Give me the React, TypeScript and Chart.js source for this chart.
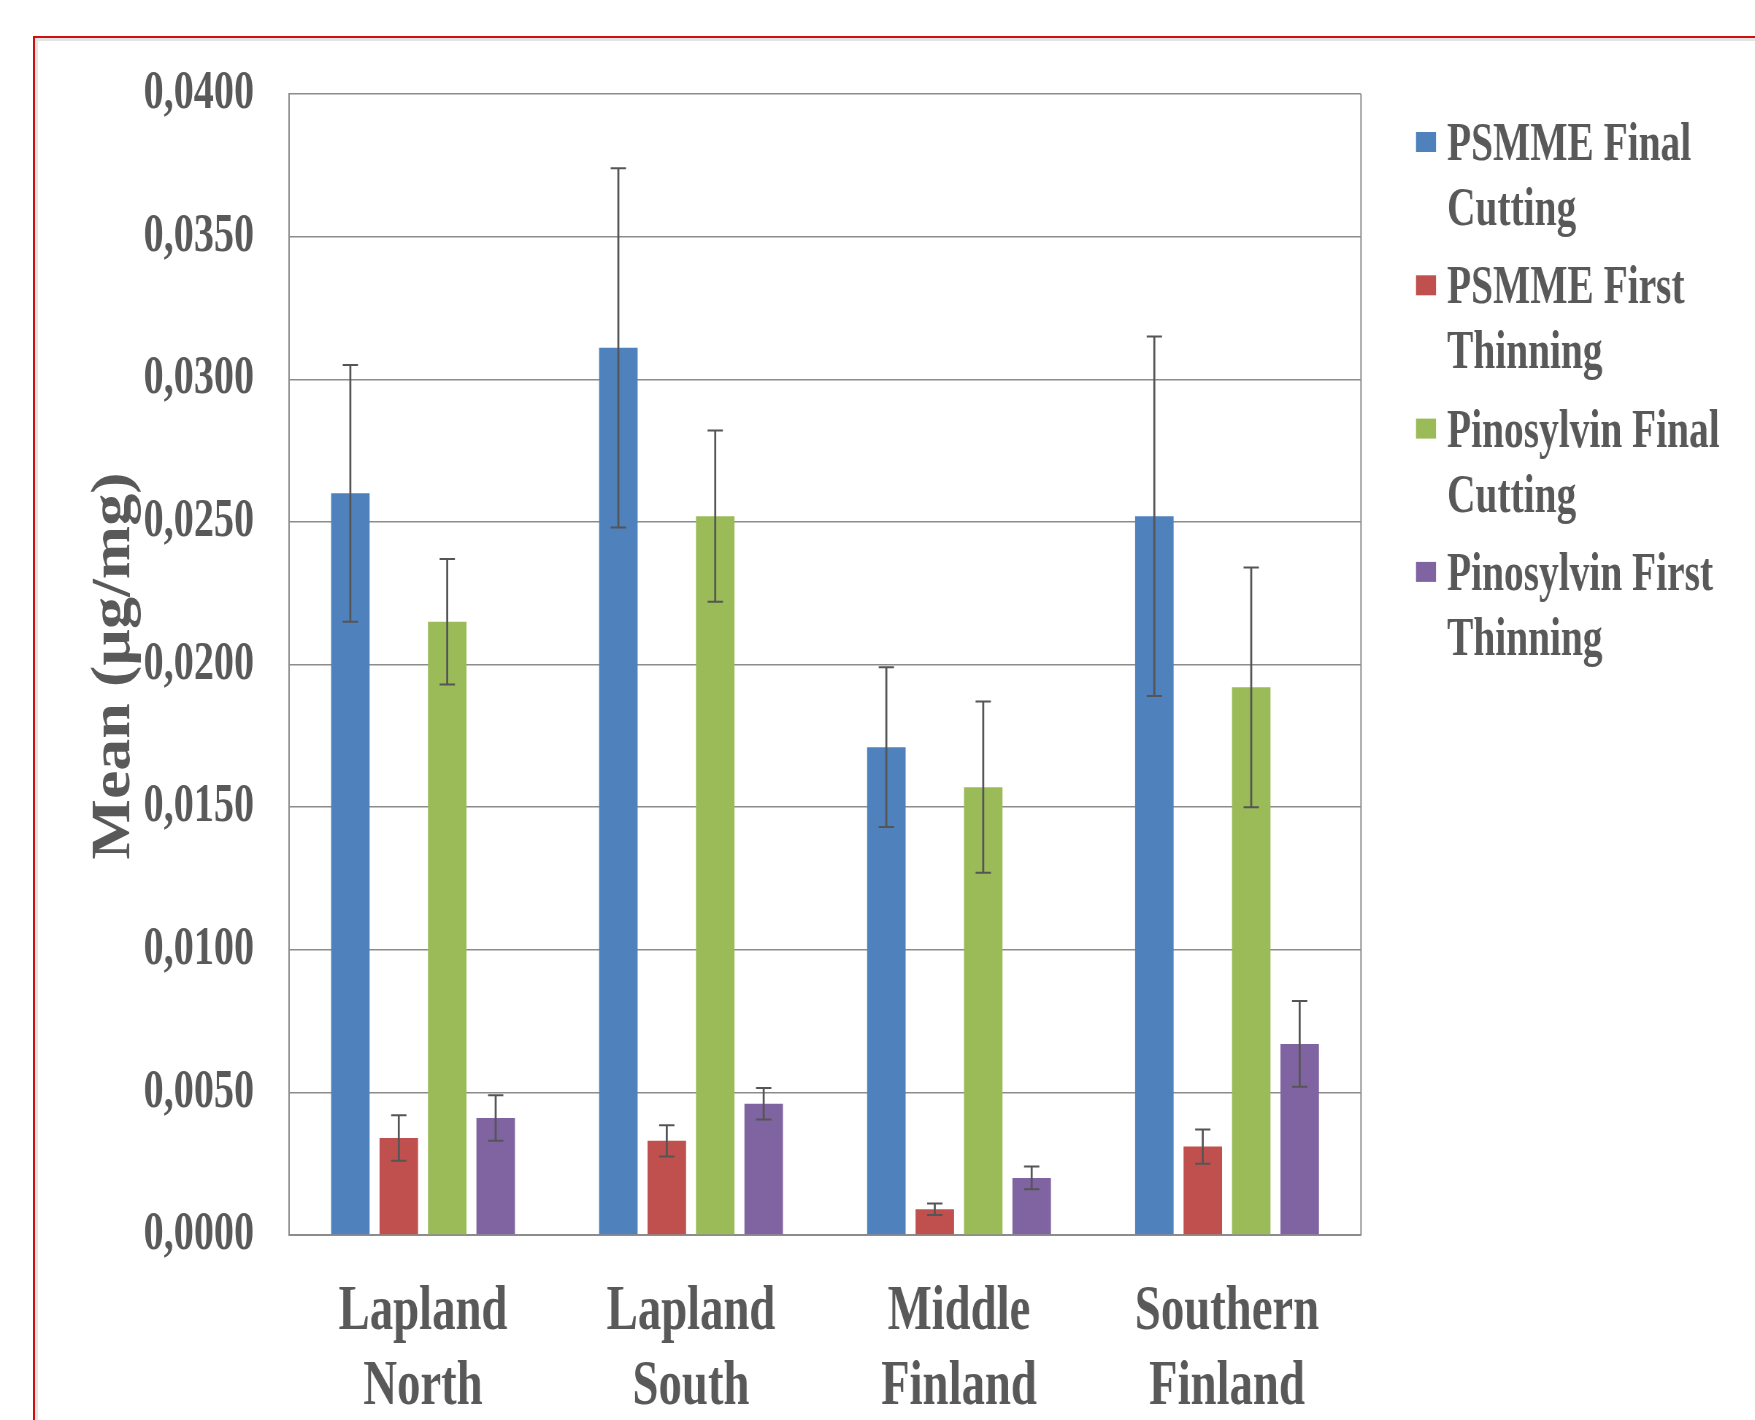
import React, { useEffect, useRef } from "react";
import { Chart, registerables } from "chart.js";

Chart.register(...registerables);

// ---------- DATA ----------
const categories: string[][] = [
  ["Lapland", "North"],
  ["Lapland", "South"],
  ["Middle", "Finland"],
  ["Southern", "Finland"],
];

const seriesNames: string[][] = [
  ["PSMME Final", "Cutting"],
  ["PSMME First", "Thinning"],
  ["Pinosylvin Final", "Cutting"],
  ["Pinosylvin First", "Thinning"],
];

const psmmeFinalCutting = [0.026, 0.0311, 0.0171, 0.0252];
const psmmeFirstThinning = [0.0034, 0.0033, 0.0009, 0.0031];
const pinosylvinFinalCutting = [0.0215, 0.0252, 0.0157, 0.0192];
const pinosylvinFirstThinning = [0.0041, 0.0046, 0.002, 0.0067];

const psmmeFinalCuttingErr = [0.0045, 0.0063, 0.0028, 0.0063];
const psmmeFirstThinningErr = [0.0008, 0.00055, 0.0002, 0.0006];
const pinosylvinFinalCuttingErr = [0.0022, 0.003, 0.003, 0.0042];
const pinosylvinFirstThinningErr = [0.0008, 0.00055, 0.0004, 0.0015];

const seriesColors = ["#4F81BD", "#C0504D", "#9BBB59", "#8064A2"];

const Y_MIN = 0;
const Y_MAX = 0.04;
const Y_STEP = 0.005;
const yTickFormat = (v: number) => v.toFixed(4).replace(".", ",");
const yTitle = "Mean (µg/mg)";

// ---------- LAYOUT ----------
const S = 0.73; // horizontal compression of the whole picture
const PAGE_W = 1755;
const PAGE_H = 1420;
const CW = Math.round(PAGE_W / S);
const CH = PAGE_H;
const FONT = '"Liberation Serif", "Times New Roman", serif';
const TEXT = "#595959";
const GRID = "#8c8c8c";

const PLOT_LEFT = 289 / S;
const PLOT_RIGHT = 1361 / S;
const PLOT_TOP = 94;
const PLOT_BOTTOM = 1235;

const errorBarPlugin = {
  id: "errorBars",
  afterDatasetsDraw(chart: any) {
    const ctx = chart.ctx;
    const y = chart.scales.y;
    chart.data.datasets.forEach((ds: any, di: number) => {
      const meta = chart.getDatasetMeta(di);
      meta.data.forEach((bar: any, i: number) => {
        const v = ds.data[i];
        const e = ds.errors[i];
        const x = bar.x;
        const yt = y.getPixelForValue(v + e);
        const yb = y.getPixelForValue(v - e);
        const cap = 10.5;
        ctx.save();
        ctx.strokeStyle = "#555555";
        ctx.lineWidth = 2 / S;
        ctx.beginPath();
        ctx.moveTo(x, yt);
        ctx.lineTo(x, yb);
        ctx.stroke();
        ctx.lineWidth = 2;
        ctx.beginPath();
        ctx.moveTo(x - cap, yt);
        ctx.lineTo(x + cap, yt);
        ctx.moveTo(x - cap, yb);
        ctx.lineTo(x + cap, yb);
        ctx.stroke();
        ctx.restore();
      });
    });
  },
};

const frameAndTextPlugin = {
  id: "frameAndText",
  beforeDatasetsDraw(chart: any) {
    const { ctx, chartArea } = chart;
    ctx.save();
    ctx.strokeStyle = GRID;
    ctx.lineWidth = 2;
    ctx.beginPath();
    ctx.moveTo(chartArea.right, chartArea.top);
    ctx.lineTo(chartArea.right, chartArea.bottom);
    ctx.stroke();
    ctx.restore();
  },
  afterDraw(chart: any) {
    const ctx = chart.ctx;
    // y-axis title
    ctx.save();
    ctx.translate(129 / S, 666);
    ctx.scale(0.88 / S, 1);
    ctx.rotate(-Math.PI / 2);
    ctx.font = `bold 64px ${FONT}`;
    ctx.fillStyle = TEXT;
    ctx.textAlign = "center";
    ctx.textBaseline = "alphabetic";
    ctx.fillText(yTitle, 0, 0);
    ctx.restore();

    // legend
    const sqX = 1416 / S;
    const sqW = 20 / S;
    const txtX = 1447 / S;
    ctx.save();
    ctx.font = `bold 54px ${FONT}`;
    ctx.textAlign = "left";
    ctx.textBaseline = "alphabetic";
    chart.data.datasets.forEach((ds: any, i: number) => {
      const base = 160 + i * 143.3;
      ctx.fillStyle = ds.backgroundColor;
      ctx.fillRect(sqX, base - 28, sqW, 20);
      ctx.fillStyle = TEXT;
      (ds.legendLines as string[]).forEach((line, j) => {
        ctx.fillText(line, txtX, base + j * 65);
      });
    });
    ctx.restore();
  },
};

export default function App() {
  const ref = useRef<HTMLCanvasElement | null>(null);

  useEffect(() => {
    if (!ref.current) return;
    const values = [psmmeFinalCutting, psmmeFirstThinning, pinosylvinFinalCutting, pinosylvinFirstThinning];
    const errors = [psmmeFinalCuttingErr, psmmeFirstThinningErr, pinosylvinFinalCuttingErr, pinosylvinFirstThinningErr];
    const chart = new Chart(ref.current, {
      type: "bar",
      data: {
        labels: categories,
        datasets: values.map((d, i) => ({
          label: seriesNames[i].join(" "),
          legendLines: seriesNames[i],
          data: d,
          errors: errors[i],
          backgroundColor: seriesColors[i],
          borderWidth: 0,
          categoryPercentage: 0.723,
          barPercentage: 0.795,
        })) as any,
      },
      options: {
        animation: false,
        responsive: false,
        devicePixelRatio: 1,
        layout: { padding: { left: 0, top: PLOT_TOP, right: CW - PLOT_RIGHT, bottom: 0 } },
        plugins: { legend: { display: false }, tooltip: { enabled: false } },
        scales: {
          x: {
            grid: { display: false, drawTicks: false },
            border: { display: true, color: GRID, width: 2 },
            ticks: {
              color: TEXT,
              font: { family: FONT, size: 64, weight: "bold", lineHeight: 1.17 },
              padding: 40,
              maxRotation: 0,
              autoSkip: false,
            },
            afterFit: (scale: any) => {
              scale.height = CH - PLOT_BOTTOM;
            },
          },
          y: {
            min: Y_MIN,
            max: Y_MAX,
            grid: { color: GRID, lineWidth: 1.5, drawTicks: false },
            border: { display: true, color: GRID, width: 2 },
            ticks: {
              stepSize: Y_STEP,
              color: TEXT,
              padding: 48,
              font: { family: FONT, size: 55, weight: "bold" },
              callback: (v: any) => yTickFormat(Number(v)),
            },
            afterFit: (scale: any) => {
              scale.width = PLOT_LEFT;
            },
          },
        },
      } as any,
      plugins: [errorBarPlugin, frameAndTextPlugin],
    });
    return () => chart.destroy();
  }, []);

  return (
    <div
      style={{
        position: "absolute",
        left: 0,
        top: 0,
        width: PAGE_W,
        height: PAGE_H,
        overflow: "hidden",
        background: "#fff",
      }}
    >
      <div
        style={{
          position: "absolute",
          left: 33,
          top: 36,
          width: 1900,
          height: 1600,
          border: "2px solid #cc1111",
          boxShadow: "inset 0 0 0 3px #e4e4e4",
          boxSizing: "border-box",
        }}
      />
      <div
        style={{
          position: "absolute",
          left: 0,
          top: 0,
          width: CW,
          height: CH,
          transform: `scaleX(${S})`,
          transformOrigin: "0 0",
        }}
      >
        <canvas ref={ref} width={CW} height={CH} style={{ width: CW, height: CH, display: "block" }} />
      </div>
    </div>
  );
}
